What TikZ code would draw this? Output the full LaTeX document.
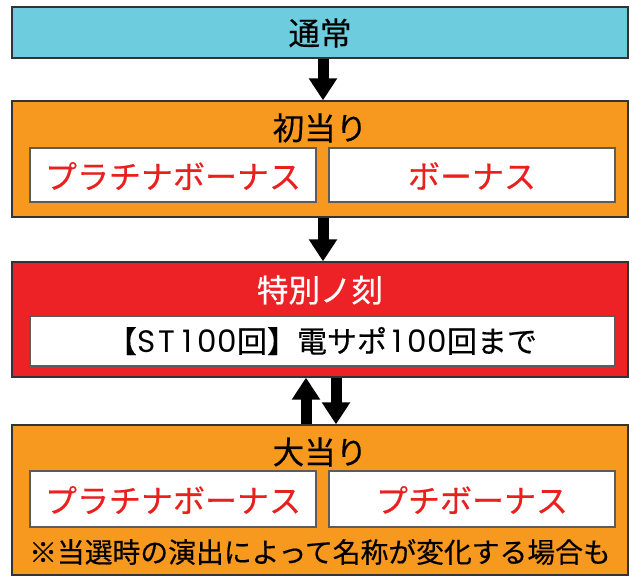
\documentclass[tikz,border=0pt]{standalone}
\usepackage{fontspec}
\newfontfamily\jp[FakeBold=0.4]{Noto Sans CJK JP}
\newfontfamily\latinw{Poppins}
\newcommand{\wg}[1]{\makebox[20pt]{\latinw\fontsize{31}{31}\selectfont #1}}
\usetikzlibrary{arrows.meta}
\definecolor{cyanbox}{HTML}{6DCDDE}
\definecolor{orangebox}{HTML}{F7991E}
\definecolor{redbox}{HTML}{EC2227}
\definecolor{redtext}{HTML}{E8201E}
\definecolor{edge}{HTML}{333333}
\tikzset{
  outer/.style={draw=edge, line width=1.3pt, minimum width=616pt, inner sep=0pt},
  inner/.style={draw=edge!80, fill=white, line width=1.2pt, inner sep=0pt},
  title/.style={font=\jp\fontsize{31.5}{31.5}\selectfont, inner sep=0pt},
  bonus/.style={font=\jp\fontsize{32}{32}\selectfont, text=redtext, inner sep=0pt},
  blockarrow/.style={line width=11pt, -{Triangle[width=27pt,length=22pt]}}
}
\begin{document}
\begin{tikzpicture}[x=1pt,y=1pt]
\useasboundingbox (0,0) rectangle (640,-585);
% boxes
\node[outer, fill=cyanbox, minimum height=51pt] (top) at (320,-32.5) {};
\node[title] (toptitle) at (320,-33) {通常};
\node[outer, fill=orangebox, minimum height=116pt] (b1) at (320,-159) {};
\node[title] (b1title) at (320,-128) {初当り};
\node[inner, minimum width=286pt, minimum height=54pt] (b1l) at (173,-175) {};
\node[inner, minimum width=286pt, minimum height=54pt] (b1r) at (472,-175) {};
\node[bonus] (b1lt) at (173,-176) {プラチナボーナス};
\node[bonus] (b1rt) at (472,-176) {ボーナス};
\node[outer, fill=redbox, minimum height=115pt] (b2) at (320,-319.5) {};
\node[title, text=white] (b2title) at (320,-290) {特別ノ刻};
\node[inner, minimum width=585pt, minimum height=50pt] (b2i) at (322.5,-341) {};
\node[title, font=\jp\fontsize{30}{30}\selectfont] (b2it) at (322,-341) {【\wg{S}\wg{T}\wg{1}\wg{0}\wg{0}回】電サポ\wg{1}\wg{0}\wg{0}回まで};
\node[outer, fill=orangebox, minimum height=150pt] (b3) at (320,-500) {};
\node[title] (b3title) at (320,-452) {大当り};
\node[inner, minimum width=286pt, minimum height=56pt] (b3l) at (173,-499) {};
\node[inner, minimum width=286pt, minimum height=56pt] (b3r) at (472,-499) {};
\node[bonus] (b3lt) at (173,-500) {プラチナボーナス};
\node[bonus] (b3rt) at (472,-500) {プチボーナス};
\node[title, font=\jp\fontsize{27.8}{27.8}\selectfont] (note) at (320,-552) {※当選時の演出によって名称が変化する場合も};
% arrows
\draw[blockarrow] ([xshift=3pt]top.south) -- ([xshift=3pt]b1.north);
\draw[blockarrow] ([xshift=3pt]b1.south) -- ([xshift=3pt]b2.north);
\draw[blockarrow] ([xshift=-14pt]b3.north) -- ([xshift=-14pt]b2.south);
\draw[blockarrow] ([xshift=16pt]b2.south) -- ([xshift=16pt]b3.north);
\end{tikzpicture}
\end{document}
